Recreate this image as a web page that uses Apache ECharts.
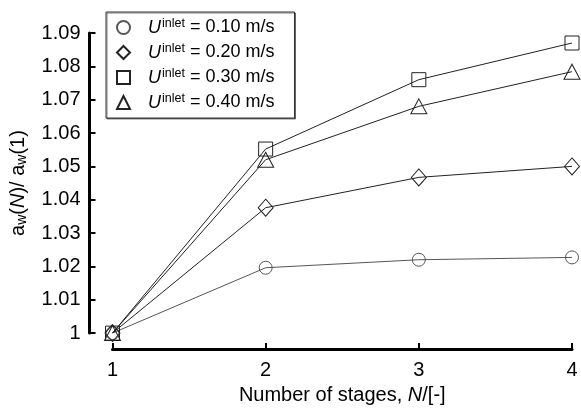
<!DOCTYPE html>
<html>
<head>
<meta charset="utf-8">
<script src="https://cdn.jsdelivr.net/npm/echarts@6/dist/echarts.min.js"></script>
</head>
<body style="margin:0;background:#fff">
<div id="chart" style="width:581px;height:410px;"></div>
<script>
// number of stages and the ratio aw(N)/aw(1) for each inlet velocity
var stages = [1, 2, 3, 4];
var speeds = ['0.10', '0.20', '0.30', '0.40'];
var ratio010 = [1, 1.0196, 1.0220, 1.0227];
var ratio020 = [1, 1.0376, 1.0467, 1.0500];
var ratio030 = [1, 1.0552, 1.0760, 1.0870];
var ratio040 = [1, 1.0520, 1.0680, 1.0784];
var yMin = 1, yMax = 1.09, yStep = 0.01;

var font = 'Liberation Sans, Arial, sans-serif';
var symbols = ['circle', 'diamond', 'rect', 'triangle'];
var symbolSizes = [13, [15, 17], 14, [16, 15]];
var colors = ['#555', '#222', '#222', '#222'];
var allData = [ratio010, ratio020, ratio030, ratio040];

function pairs(arr) {
    return stages.map(function (s, i) { return [s, arr[i]]; });
}

var series = [];
for (var k = 0; k < speeds.length; k++) {
    series.push({
        name: speeds[k],
        type: 'line',
        data: pairs(allData[k]),
        symbol: symbols[k],
        symbolSize: symbolSizes[k],
        showAllSymbol: true,
        lineStyle: {color: colors[k], width: 1},
        itemStyle: {color: 'transparent', borderColor: colors[k], borderWidth: 1},
        emphasis: {disabled: true},
        z: 2 + k
    });
}

var myChart = echarts.init(document.getElementById('chart'));
myChart.setOption({
    animation: false,
    textStyle: {fontFamily: font, color: '#000'},
    grid: {left: 108, right: 9, top: 33, bottom: 70},
    legend: {
        orient: 'vertical',
        left: 106,
        top: 12,
        padding: [5, 20, 5, 10],
        borderColor: '#333',
        borderWidth: 1,
        backgroundColor: '#fff',
        shadowColor: 'rgba(0,0,0,0.5)',
        shadowOffsetX: 1,
        shadowOffsetY: 1,
        itemWidth: 13,
        itemHeight: 13,
        itemGap: 4,
        data: speeds.map(function (s, i) { return {name: s, icon: symbols[i]}; }),
        formatter: function (name) {
            return '{u|U}{s|inlet}{t| = ' + name + ' m/s}';
        },
        textStyle: {
            fontFamily: font,
            color: '#000',
            rich: {
                u: {fontSize: 18, fontStyle: 'italic', fontFamily: font, lineHeight: 16, padding: [0, 0, 0, 13]},
                s: {fontSize: 12.5, fontFamily: font, lineHeight: 8, padding: [0, 0, 8, 1]},
                t: {fontSize: 18, fontFamily: font, lineHeight: 16}
            }
        }
    },
    xAxis: {
        type: 'value',
        min: 1,
        max: 4,
        interval: 1,
        offset: 16,
        name: 'Number of stages, {i|N}/[-]',
        nameLocation: 'middle',
        nameGap: 34,
        nameTextStyle: {
            fontSize: 20, fontFamily: font, color: '#000',
            rich: {i: {fontSize: 20, fontStyle: 'italic', fontFamily: font}}
        },
        axisLine: {lineStyle: {color: '#000', width: 3}},
        axisTick: {inside: true, length: 6, lineStyle: {width: 2, color: '#000'}},
        axisLabel: {fontSize: 20, color: '#000', margin: 11, fontFamily: font},
        splitLine: {show: false}
    },
    yAxis: {
        type: 'value',
        min: yMin,
        max: yMax,
        interval: yStep,
        offset: 23,
        name: 'a{sub|w}({i|N})/ a{sub|w}(1)',
        nameLocation: 'middle',
        nameGap: 60,
        nameTextStyle: {
            fontSize: 20, fontFamily: font, color: '#000',
            rich: {
                sub: {fontSize: 14, fontFamily: font, padding: [9, 0, 0, 0]},
                i: {fontSize: 20, fontStyle: 'italic', fontFamily: font}
            }
        },
        axisLine: {show: true, lineStyle: {color: '#000', width: 3}},
        axisTick: {show: true, inside: true, length: 6, lineStyle: {width: 2, color: '#000'}},
        axisLabel: {
            fontSize: 20, color: '#000', margin: 9, fontFamily: font,
            formatter: function (v) { return String(+v.toFixed(2)); }
        },
        splitLine: {show: false}
    },
    series: series
});
window.onresize = function () {
    myChart.resize();
};
</script>
</body>
</html>
